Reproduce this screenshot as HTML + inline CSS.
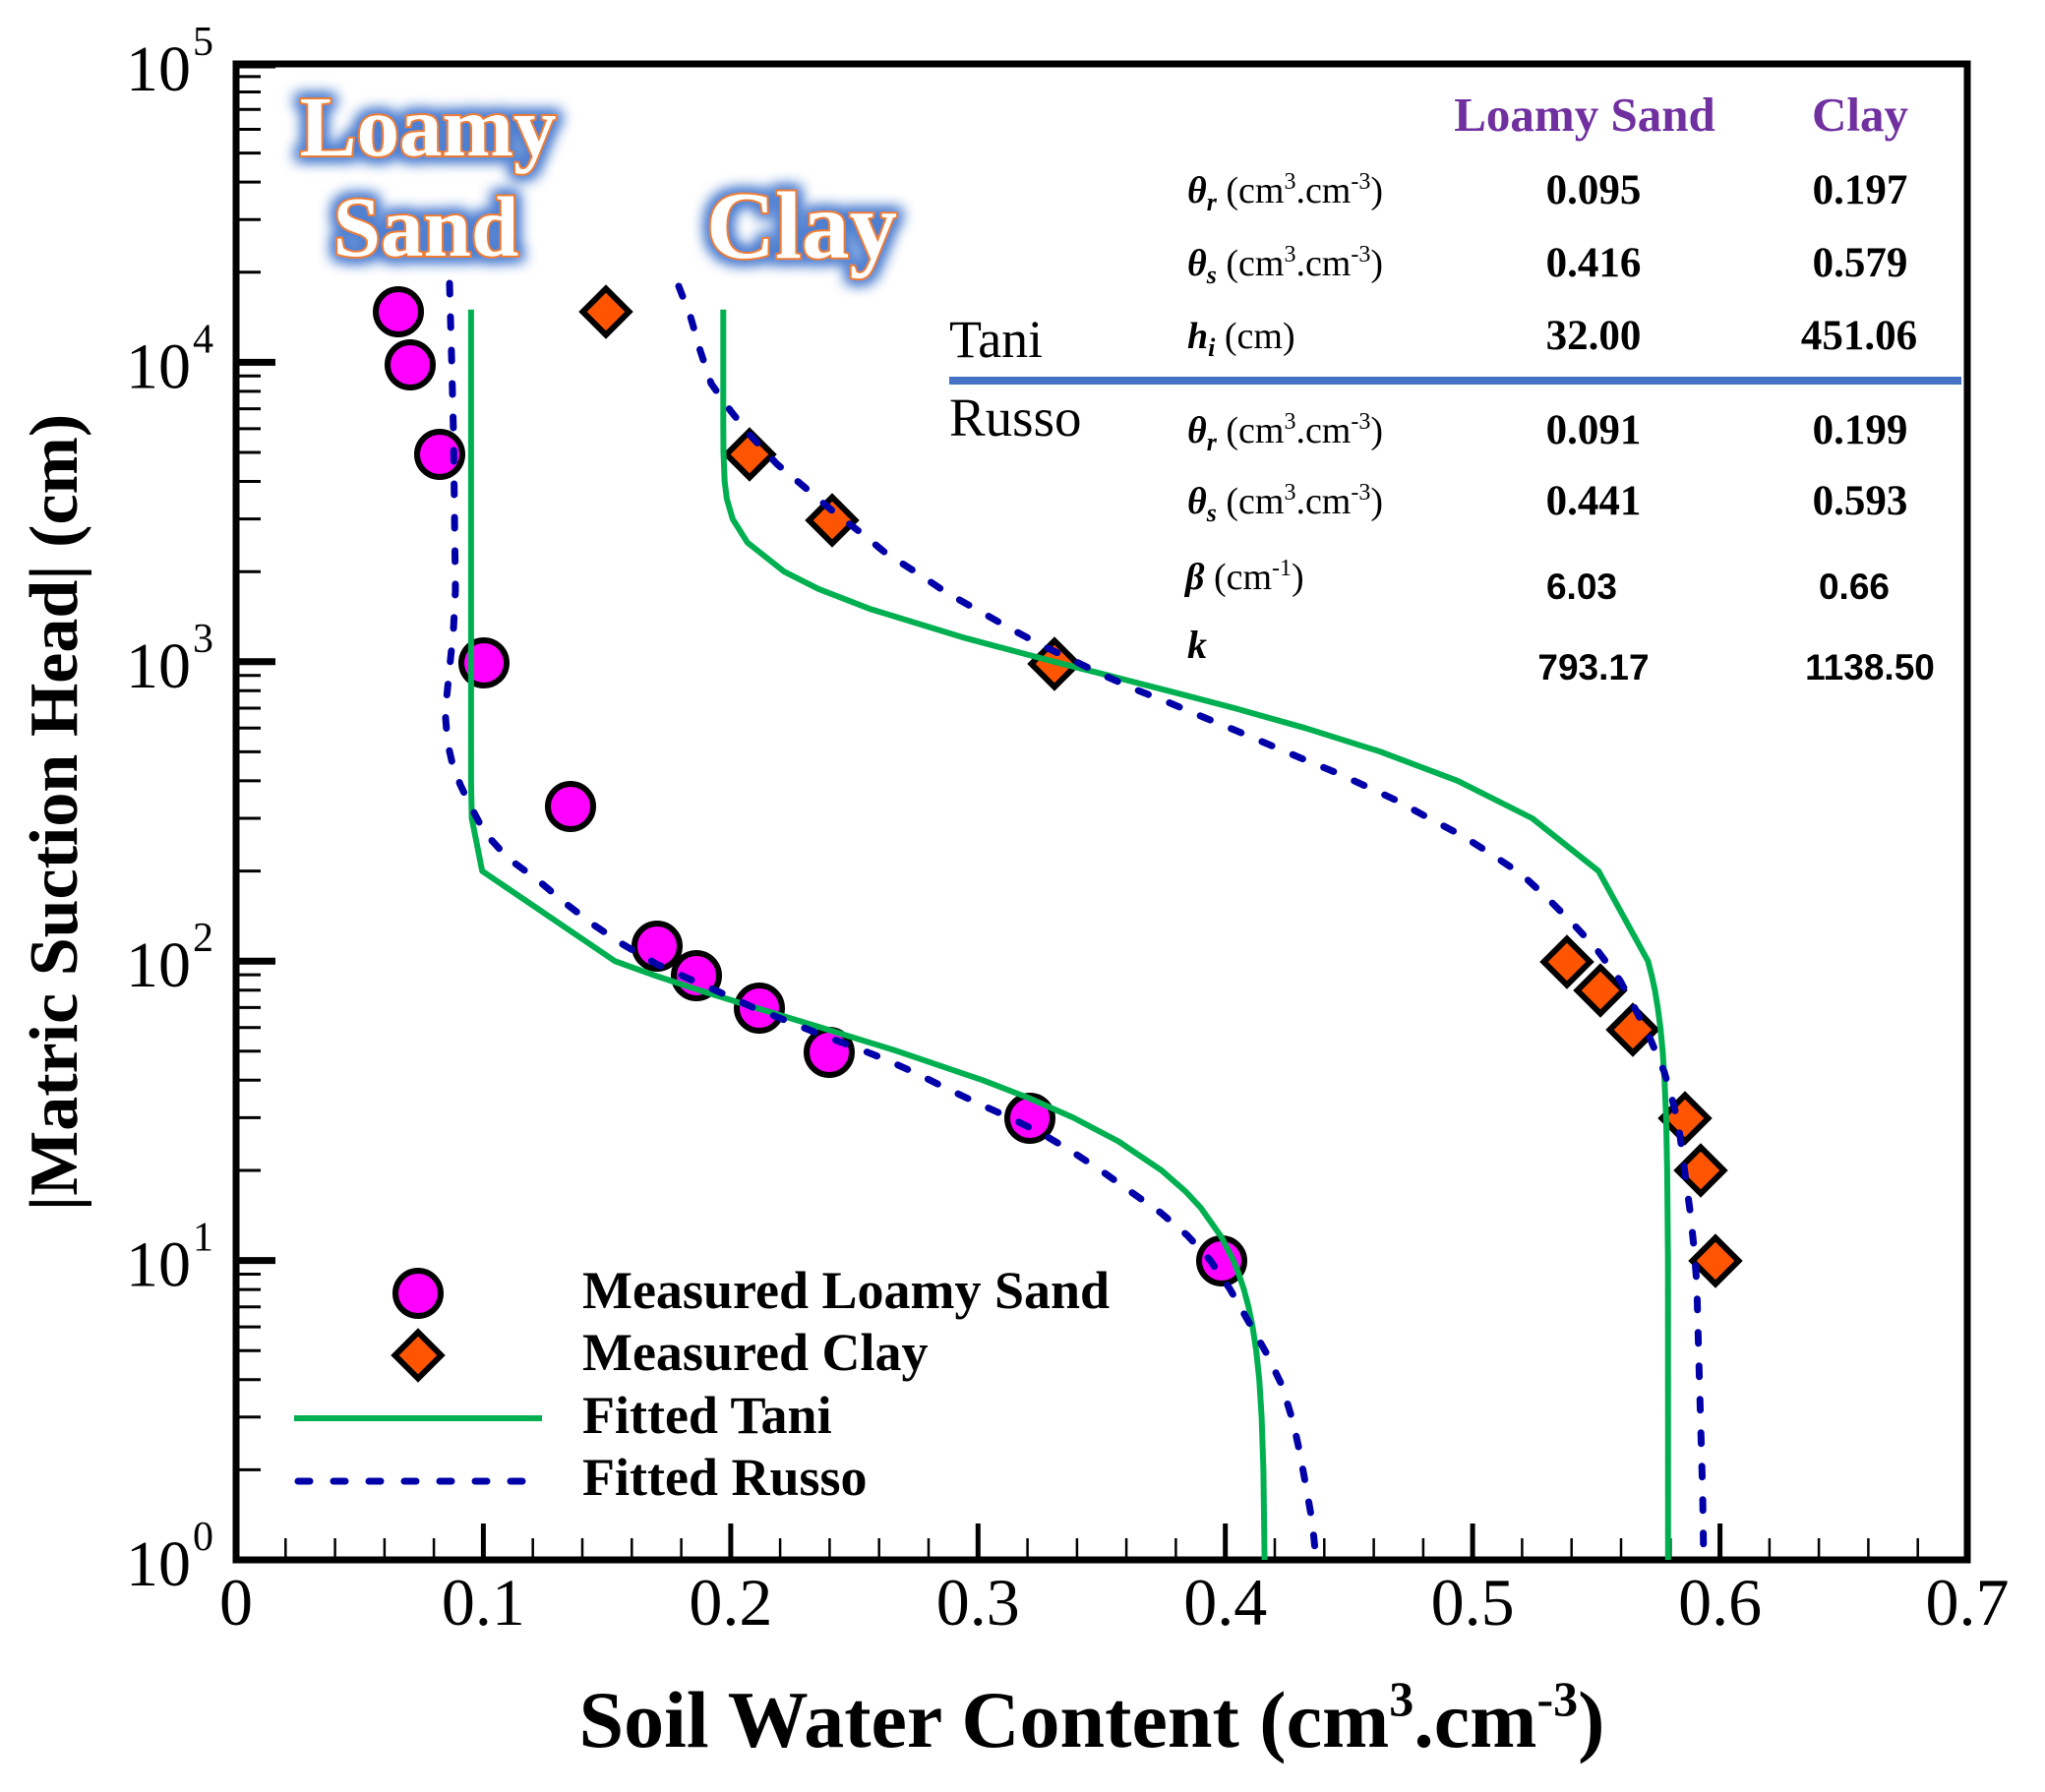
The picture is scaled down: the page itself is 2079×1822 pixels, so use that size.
<!DOCTYPE html>
<html>
<head>
<meta charset="utf-8">
<style>
  html, body { margin: 0; padding: 0; background: #ffffff; }
  svg { display: block; }
  text { font-family: "Liberation Serif", "Times New Roman", serif; }
  .sans { font-family: "Liberation Sans", Arial, sans-serif; }
</style>
</head>
<body>
<svg width="2079" height="1822" viewBox="0 0 2079 1822" xmlns="http://www.w3.org/2000/svg">
  <defs>
    <filter id="glow" x="-30%" y="-50%" width="160%" height="200%">
      <feMorphology in="SourceAlpha" operator="dilate" radius="3" result="d"/>
      <feGaussianBlur in="d" stdDeviation="7" result="b"/>
      <feFlood flood-color="#4f7fd0"/>
      <feComposite in2="b" operator="in" result="g"/>
      <feMerge><feMergeNode in="g"/><feMergeNode in="g"/><feMergeNode in="SourceGraphic"/></feMerge>
    </filter>
    <path id="dm" d="M0,-23.5L23.5,0L0,23.5L-23.5,0Z" fill="#FF5500" stroke="#000" stroke-width="6" stroke-linejoin="miter"/>
  </defs>

  <rect x="0" y="0" width="2079" height="1822" fill="#fff"/>

  <!-- Y-axis ticks -->
  <g stroke="#000" stroke-width="7">
    <line x1="240" y1="1281.6" x2="280" y2="1281.6"/>
    <line x1="240" y1="977.2" x2="280" y2="977.2"/>
    <line x1="240" y1="672.8" x2="280" y2="672.8"/>
    <line x1="240" y1="368.4" x2="280" y2="368.4"/>
    <line x1="240" y1="66" x2="280" y2="66"/>
  </g>
  <g stroke="#000" stroke-width="3">
    <line x1="240" y1="1494.4" x2="265" y2="1494.4"/><line x1="240" y1="1440.8" x2="265" y2="1440.8"/><line x1="240" y1="1402.7" x2="265" y2="1402.7"/><line x1="240" y1="1373.2" x2="265" y2="1373.2"/><line x1="240" y1="1349.1" x2="265" y2="1349.1"/><line x1="240" y1="1328.8" x2="265" y2="1328.8"/><line x1="240" y1="1311.1" x2="265" y2="1311.1"/><line x1="240" y1="1295.5" x2="265" y2="1295.5"/>
    <line x1="240" y1="1190.0" x2="265" y2="1190.0"/><line x1="240" y1="1136.4" x2="265" y2="1136.4"/><line x1="240" y1="1098.3" x2="265" y2="1098.3"/><line x1="240" y1="1068.8" x2="265" y2="1068.8"/><line x1="240" y1="1044.7" x2="265" y2="1044.7"/><line x1="240" y1="1024.4" x2="265" y2="1024.4"/><line x1="240" y1="1006.7" x2="265" y2="1006.7"/><line x1="240" y1="991.1" x2="265" y2="991.1"/>
    <line x1="240" y1="885.6" x2="265" y2="885.6"/><line x1="240" y1="832.0" x2="265" y2="832.0"/><line x1="240" y1="793.9" x2="265" y2="793.9"/><line x1="240" y1="764.4" x2="265" y2="764.4"/><line x1="240" y1="740.3" x2="265" y2="740.3"/><line x1="240" y1="720.0" x2="265" y2="720.0"/><line x1="240" y1="702.3" x2="265" y2="702.3"/><line x1="240" y1="686.7" x2="265" y2="686.7"/>
    <line x1="240" y1="581.2" x2="265" y2="581.2"/><line x1="240" y1="527.6" x2="265" y2="527.6"/><line x1="240" y1="489.5" x2="265" y2="489.5"/><line x1="240" y1="460.0" x2="265" y2="460.0"/><line x1="240" y1="435.9" x2="265" y2="435.9"/><line x1="240" y1="415.6" x2="265" y2="415.6"/><line x1="240" y1="397.9" x2="265" y2="397.9"/><line x1="240" y1="382.3" x2="265" y2="382.3"/>
    <line x1="240" y1="276.8" x2="265" y2="276.8"/><line x1="240" y1="223.2" x2="265" y2="223.2"/><line x1="240" y1="185.1" x2="265" y2="185.1"/><line x1="240" y1="155.6" x2="265" y2="155.6"/><line x1="240" y1="131.5" x2="265" y2="131.5"/><line x1="240" y1="111.2" x2="265" y2="111.2"/><line x1="240" y1="93.5" x2="265" y2="93.5"/><line x1="240" y1="77.9" x2="265" y2="77.9"/>
  </g>

  <!-- X-axis ticks -->
  <g stroke="#000" stroke-width="5">
    <line x1="491.4" y1="1586" x2="491.4" y2="1549"/>
    <line x1="742.9" y1="1586" x2="742.9" y2="1549"/>
    <line x1="994.3" y1="1586" x2="994.3" y2="1549"/>
    <line x1="1245.7" y1="1586" x2="1245.7" y2="1549"/>
    <line x1="1497.1" y1="1586" x2="1497.1" y2="1549"/>
    <line x1="1748.6" y1="1586" x2="1748.6" y2="1549"/>
  </g>
  <g stroke="#000" stroke-width="2.5">
    <line x1="290.3" y1="1586" x2="290.3" y2="1564"/><line x1="340.6" y1="1586" x2="340.6" y2="1564"/><line x1="390.9" y1="1586" x2="390.9" y2="1564"/><line x1="441.1" y1="1586" x2="441.1" y2="1564"/>
    <line x1="541.7" y1="1586" x2="541.7" y2="1564"/><line x1="592.0" y1="1586" x2="592.0" y2="1564"/><line x1="642.3" y1="1586" x2="642.3" y2="1564"/><line x1="692.6" y1="1586" x2="692.6" y2="1564"/>
    <line x1="793.1" y1="1586" x2="793.1" y2="1564"/><line x1="843.4" y1="1586" x2="843.4" y2="1564"/><line x1="893.7" y1="1586" x2="893.7" y2="1564"/><line x1="944.0" y1="1586" x2="944.0" y2="1564"/>
    <line x1="1044.6" y1="1586" x2="1044.6" y2="1564"/><line x1="1094.9" y1="1586" x2="1094.9" y2="1564"/><line x1="1145.1" y1="1586" x2="1145.1" y2="1564"/><line x1="1195.4" y1="1586" x2="1195.4" y2="1564"/>
    <line x1="1296.0" y1="1586" x2="1296.0" y2="1564"/><line x1="1346.3" y1="1586" x2="1346.3" y2="1564"/><line x1="1396.6" y1="1586" x2="1396.6" y2="1564"/><line x1="1446.9" y1="1586" x2="1446.9" y2="1564"/>
    <line x1="1547.4" y1="1586" x2="1547.4" y2="1564"/><line x1="1597.7" y1="1586" x2="1597.7" y2="1564"/><line x1="1648.0" y1="1586" x2="1648.0" y2="1564"/><line x1="1698.3" y1="1586" x2="1698.3" y2="1564"/>
    <line x1="1798.9" y1="1586" x2="1798.9" y2="1564"/><line x1="1849.1" y1="1586" x2="1849.1" y2="1564"/><line x1="1899.4" y1="1586" x2="1899.4" y2="1564"/><line x1="1949.7" y1="1586" x2="1949.7" y2="1564"/>
  </g>

  <!-- Frame -->
  <rect x="240" y="65" width="1760" height="1521" fill="none" stroke="#000" stroke-width="7"/>

  <!-- Y tick labels -->
  <g font-size="66" fill="#000" text-anchor="end">
    <text x="194" y="1612">10</text>
    <text x="194" y="1307.6">10</text>
    <text x="194" y="1003.2">10</text>
    <text x="194" y="698.8">10</text>
    <text x="194" y="394.4">10</text>
    <text x="194" y="92">10</text>
  </g>
  <g font-size="42" fill="#000" text-anchor="start">
    <text x="196" y="1576">0</text>
    <text x="196" y="1271.6">1</text>
    <text x="196" y="967.2">2</text>
    <text x="196" y="662.8">3</text>
    <text x="196" y="358.4">4</text>
    <text x="196" y="56">5</text>
  </g>

  <!-- X tick labels -->
  <g font-size="68" fill="#000" text-anchor="middle">
    <text x="240" y="1652">0</text>
    <text x="491.4" y="1652">0.1</text>
    <text x="742.9" y="1652">0.2</text>
    <text x="994.3" y="1652">0.3</text>
    <text x="1245.7" y="1652">0.4</text>
    <text x="1497.1" y="1652">0.5</text>
    <text x="1748.6" y="1652">0.6</text>
    <text x="2000" y="1652">0.7</text>
  </g>

  <!-- Axis titles -->
  <text x="1110" y="1776" font-size="82" font-weight="bold" text-anchor="middle">Soil Water Content (cm<tspan font-size="50" dy="-32">3</tspan><tspan dy="32">.cm</tspan><tspan font-size="50" dy="-32">-3</tspan><tspan dy="32">)</tspan></text>
  <text transform="translate(78,826) rotate(-90)" font-size="70" font-weight="bold" text-anchor="middle">|Matric Suction Head| (cm)</text>

  <!-- Big glow labels -->
  <g filter="url(#glow)" font-weight="bold" fill="#ffffff" stroke="#ED7D31" stroke-width="4" paint-order="stroke" text-anchor="middle">
    <text x="435" y="158" font-size="87">Loamy</text>
    <text x="433" y="260" font-size="87">Sand</text>
    <text x="815" y="262" font-size="97">Clay</text>
  </g>

  <!-- Table -->
  <text x="1611" y="133" font-size="49" font-weight="bold" fill="#7030A0" text-anchor="middle">Loamy Sand</text>
  <text x="1891" y="133" font-size="49" font-weight="bold" fill="#7030A0" text-anchor="middle">Clay</text>

  <text x="965" y="363" font-size="54">Tani</text>
  <line x1="965" y1="387" x2="1994" y2="387" stroke="#4472C4" stroke-width="8"/>
  <text x="965" y="443" font-size="55">Russo</text>

  <g font-size="38" fill="#000">
    <text x="1207" y="206"><tspan font-weight="bold" font-style="italic">θ</tspan><tspan font-weight="bold" font-style="italic" font-size="26" dy="8">r</tspan><tspan dy="-8"> (cm</tspan><tspan font-size="24" dy="-14">3</tspan><tspan dy="14">.cm</tspan><tspan font-size="24" dy="-14">-3</tspan><tspan dy="14">)</tspan></text>
    <text x="1207" y="280"><tspan font-weight="bold" font-style="italic">θ</tspan><tspan font-weight="bold" font-style="italic" font-size="26" dy="8">s</tspan><tspan dy="-8"> (cm</tspan><tspan font-size="24" dy="-14">3</tspan><tspan dy="14">.cm</tspan><tspan font-size="24" dy="-14">-3</tspan><tspan dy="14">)</tspan></text>
    <text x="1207" y="354"><tspan font-weight="bold" font-style="italic">h</tspan><tspan font-weight="bold" font-style="italic" font-size="26" dy="8">i</tspan><tspan dy="-8"> (cm)</tspan></text>
    <text x="1207" y="450"><tspan font-weight="bold" font-style="italic">θ</tspan><tspan font-weight="bold" font-style="italic" font-size="26" dy="8">r</tspan><tspan dy="-8"> (cm</tspan><tspan font-size="24" dy="-14">3</tspan><tspan dy="14">.cm</tspan><tspan font-size="24" dy="-14">-3</tspan><tspan dy="14">)</tspan></text>
    <text x="1207" y="522"><tspan font-weight="bold" font-style="italic">θ</tspan><tspan font-weight="bold" font-style="italic" font-size="26" dy="8">s</tspan><tspan dy="-8"> (cm</tspan><tspan font-size="24" dy="-14">3</tspan><tspan dy="14">.cm</tspan><tspan font-size="24" dy="-14">-3</tspan><tspan dy="14">)</tspan></text>
    <text x="1205" y="599"><tspan font-weight="bold" font-style="italic">β</tspan><tspan> (cm</tspan><tspan font-size="24" dy="-14">-1</tspan><tspan dy="14">)</tspan></text>
    <text x="1207" y="669" font-size="40" font-weight="bold" font-style="italic">k</text>
  </g>

  <g font-size="43" font-weight="bold" text-anchor="middle" fill="#000">
    <text x="1620" y="207">0.095</text><text x="1891" y="207">0.197</text>
    <text x="1620" y="281">0.416</text><text x="1891" y="281">0.579</text>
    <text x="1620" y="355">32.00</text><text x="1890" y="355">451.06</text>
    <text x="1620" y="451">0.091</text><text x="1891" y="451">0.199</text>
    <text x="1620" y="523">0.441</text><text x="1891" y="523">0.593</text>
  </g>
  <g class="sans" font-size="37" font-weight="bold" text-anchor="middle" fill="#000">
    <text class="sans" x="1608" y="609">6.03</text><text class="sans" x="1885" y="609">0.66</text>
    <text class="sans" x="1620" y="691">793.17</text><text class="sans" x="1901" y="691">1138.50</text>
  </g>

  <!-- Measured markers: Loamy Sand -->
  <g fill="#FF00FF" stroke="#000" stroke-width="6">
    <circle cx="405" cy="317" r="23"/>
    <circle cx="417" cy="371" r="23"/>
    <circle cx="447" cy="462" r="23"/>
    <circle cx="492" cy="674" r="23"/>
    <circle cx="580" cy="820" r="23"/>
    <circle cx="668" cy="962" r="23"/>
    <circle cx="708" cy="992" r="23"/>
    <circle cx="772" cy="1025" r="23"/>
    <circle cx="843" cy="1070" r="23"/>
    <circle cx="1047" cy="1137" r="23"/>
    <circle cx="1242" cy="1282" r="23"/>
  </g>
  <!-- Measured markers: Clay -->
  <use href="#dm" x="616" y="317"/>
  <use href="#dm" x="762" y="462"/>
  <use href="#dm" x="846" y="529"/>
  <use href="#dm" x="1072" y="675"/>
  <use href="#dm" x="1593" y="978"/>
  <use href="#dm" x="1627" y="1007"/>
  <use href="#dm" x="1660" y="1047"/>
  <use href="#dm" x="1713" y="1137"/>
  <use href="#dm" x="1729" y="1190"/>
  <use href="#dm" x="1744" y="1282"/>

  <!-- Fitted Tani -->
  <g fill="none" stroke="#00B050" stroke-width="6" stroke-linejoin="round">
    <path d="M1285.6,1586 L1284.4,1494.4 L1282.6,1440.8 L1280.2,1402.7 L1277.1,1373.2 L1273.4,1349.1 L1269.3,1328.8 L1264.6,1311.1 L1259.4,1295.5 L1253.9,1281.6 L1241.6,1257.5 L1220.7,1228.0 L1205.4,1211.5 L1180.9,1190.0 L1137.1,1160.5 L1091.2,1136.4 L1044.9,1116.0 L999.1,1098.3 L912.4,1068.8 L834.7,1044.7 L767.5,1024.4 L710.7,1006.7 L663.7,991.1 L625.1,977.2 L490.2,885.6 L479.6,832.0 L478.9,793.9 L478.9,314.8"/>
    <path d="M1695.8,1586 L1695.7,1281.6 L1694.9,1190.0 L1693.8,1136.4 L1692.2,1098.3 L1690.3,1068.8 L1688.0,1044.7 L1685.3,1024.4 L1682.4,1006.7 L1679.0,991.1 L1675.4,977.2 L1625.1,885.6 L1557.7,832.0 L1481.9,793.9 L1403.7,764.4 L1327.2,740.3 L1254.6,719.9 L1187.4,702.3 L1126.5,686.7 L1071.8,672.8 L981.2,648.7 L884.7,619.2 L832.1,598.8 L797.2,581.2 L759.9,551.7 L744.8,527.6 L738.9,507.2 L736.7,489.5 L735.5,460.0 L735.3,430 L735.3,314.8"/>
  </g>

  <!-- Fitted Russo -->
  <g fill="none" stroke="#0000A8" stroke-width="7" stroke-linecap="round" stroke-dasharray="11 23">
    <path d="M457,288 L459,360 L461,440 L462,520 L463,600 L461,640 L457,680 L454,710 L453,730 L455,755 L460,777 L468,798 L477,817 L493,847 L517,873 L547,895 L573,917 L603,940 L633,960 L667,980 L700,995 L730,1008 L767,1025 L800,1038 L837,1053 L867,1064 L900,1077 L933,1092 L963,1107 L997,1123 L1030,1138 L1060,1153 L1090,1171 L1122,1192 L1150,1212 L1180,1233 L1207,1256 L1230,1281 L1250,1310 L1270,1345 L1287,1375 L1303,1408 L1315,1447 L1322,1480 L1328,1513 L1334,1547 L1338,1586"/>
    <path d="M690,291 L702,322 L712,357 L723,390 L743,418 L763,443 L790,472 L820,497 L847,520 L877,543 L900,562 L933,583 L963,603 L997,622 L1027,639 L1057,655 L1090,671 L1123,687 L1157,702 L1190,715 L1223,729 L1257,743 L1290,757 L1323,771 L1357,785 L1390,800 L1420,814 L1453,832 L1487,850 L1517,869 L1547,889 L1573,913 L1600,940 L1623,965 L1647,997 L1663,1027 L1678,1057 L1692,1090 L1702,1125 L1708,1155 L1713,1193 L1718,1230 L1722,1267 L1725,1305 L1727,1380 L1729,1450 L1731,1520 L1732,1586"/>
  </g>

  <!-- Legend -->
  <circle cx="425" cy="1315" r="23" fill="#FF00FF" stroke="#000" stroke-width="6"/>
  <use href="#dm" x="425" y="1378"/>
  <line x1="299" y1="1442" x2="551" y2="1442" stroke="#00B050" stroke-width="6"/>
  <line x1="303" y1="1506" x2="536" y2="1506" stroke="#0000A8" stroke-width="7" stroke-linecap="round" stroke-dasharray="12 24"/>
  <g font-size="54" font-weight="bold" fill="#000">
    <text x="592" y="1330">Measured Loamy Sand</text>
    <text x="592" y="1393">Measured Clay</text>
    <text x="592" y="1457">Fitted Tani</text>
    <text x="592" y="1520">Fitted Russo</text>
  </g>
</svg>
</body>
</html>
